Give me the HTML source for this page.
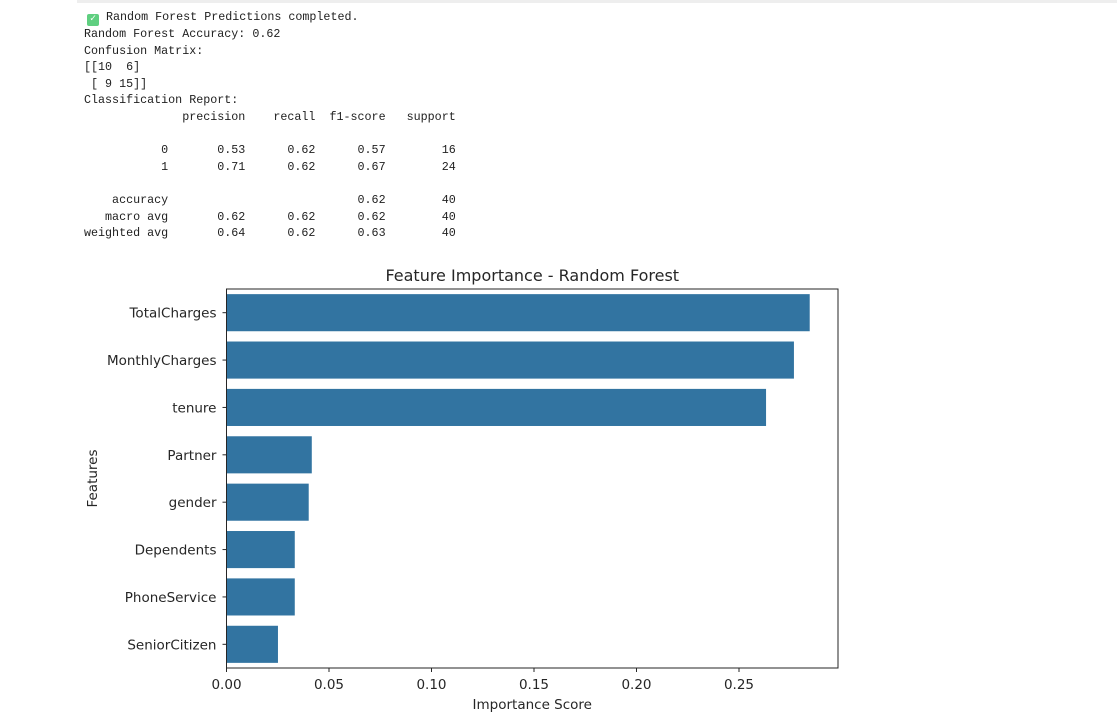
<!DOCTYPE html>
<html><head><meta charset="utf-8"><style>
body{margin:0;width:1117px;height:728px;background:#fff;overflow:hidden;position:relative}
#strip{position:absolute;left:77px;top:0;width:1040px;height:3px;background:#eeeeee}
#out{position:absolute;left:84px;top:9px;margin:0;font-family:"Liberation Mono",monospace;font-size:11.7px;line-height:16.6px;color:#212121;white-space:pre}
.chk{display:inline-block;width:12px;height:12px;background:#5fcf80;border-radius:2px;color:#fff;font-size:10px;line-height:12px;text-align:center;vertical-align:-1px;margin-left:3px}
svg{position:absolute;left:0;top:0}
svg text{font-family:"DejaVu Sans","Liberation Sans",sans-serif;fill:#262626}
</style></head><body>
<div id="strip"></div>
<pre id="out"><span class="chk">✓</span> Random Forest Predictions completed.
Random Forest Accuracy: 0.62
Confusion Matrix:
[[10  6]
 [ 9 15]]
Classification Report:
              precision    recall  f1-score   support

           0       0.53      0.62      0.57        16
           1       0.71      0.62      0.67        24

    accuracy                           0.62        40
   macro avg       0.62      0.62      0.62        40
weighted avg       0.64      0.62      0.63        40</pre>
<svg id="chart" width="1117" height="728"></svg>
<script>
const features=["TotalCharges","MonthlyCharges","tenure","Partner","gender","Dependents","PhoneService","SeniorCitizen"];
const importance=[0.2847,0.2770,0.2634,0.0418,0.0403,0.0335,0.0335,0.0253];
const xTicks=[0,0.05,0.10,0.15,0.20,0.25];
const xTickLabels=["0.00","0.05","0.10","0.15","0.20","0.25"];
const L=226.5,R=838,T=289,B=668,XMAX=0.2983;
const svg=document.getElementById('chart');
const NS='http://www.w3.org/2000/svg';
function x(v){return L+v/XMAX*(R-L);}
const band=(B-T)/features.length;
function yc(i){return T+band*(i+0.5);}
function mk(tag,attrs,parent){const e=document.createElementNS(NS,tag);for(const k in attrs)e.setAttribute(k,attrs[k]);(parent||svg).appendChild(e);return e;}
features.forEach((f,i)=>{
  const r=mk('rect',{x:x(0),y:yc(i)-band*0.4,width:x(importance[i])-x(0),height:band*0.8,fill:'#3274a1',stroke:'#fff','stroke-width':0.8});
  
  
  const t=mk('line',{x1:L-4,x2:L,y1:yc(i),y2:yc(i),stroke:'#262626','stroke-width':1});
  
  
  const lb=mk('text',{x:L-10,y:yc(i)+5,'text-anchor':'end','font-size':'13.5px'});
  lb.textContent=f;
  
  
});
xTicks.forEach((v,i)=>{
  const t=mk('line',{x1:x(v),x2:x(v),y1:B,y2:B+4,stroke:'#262626','stroke-width':1});
  
  
  const lb=mk('text',{x:x(v),y:B+21,'text-anchor':'middle','font-size':'13.5px'});
  lb.textContent=xTickLabels[i];
  
  
});
const fr=mk('rect',{x:L,y:T,width:R-L,height:B-T,fill:'none',stroke:'#262626','stroke-width':1});


const ti=mk('text',{x:(L+R)/2,y:281,'text-anchor':'middle','font-size':'16px'});
ti.textContent='Feature Importance - Random Forest';


const xt=mk('text',{x:(L+R)/2,y:709,'text-anchor':'middle','font-size':'13.5px'});
xt.textContent='Importance Score';


const yt=mk('text',{x:97,y:(T+B)/2,'text-anchor':'middle','font-size':'13.5px',transform:'rotate(-90 97 '+((T+B)/2)+')'});
yt.textContent='Features';


</script>
</body></html>
